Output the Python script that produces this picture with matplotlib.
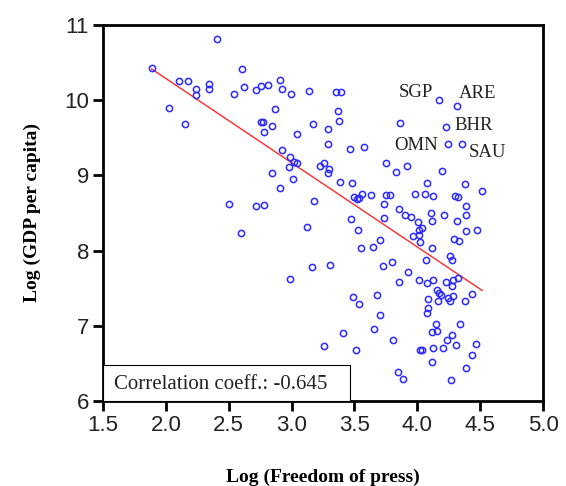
import numpy as np
import matplotlib
matplotlib.use("Agg")
import matplotlib.pyplot as plt
from matplotlib.patches import Rectangle

# log freedom of press (x) and log GDP per capita (y)
press = [
    1.887, 2.409, 2.608, 2.105, 2.176, 2.240, 2.240, 2.343, 2.343, 2.544,
    2.622, 2.717, 2.753, 2.813, 2.908, 2.926, 2.992, 3.139, 2.027, 2.152,
    2.866, 2.757, 2.770, 2.844, 2.781, 3.047, 3.173, 3.292, 3.290, 2.922,
    2.986, 3.041, 3.022, 2.982, 3.225, 3.258, 3.296, 3.292, 2.844, 3.013,
    2.908, 3.175, 2.501, 2.717, 2.781, 3.354, 3.396, 3.369, 3.377, 3.467,
    3.578, 3.384, 3.481, 3.497, 3.518, 3.534, 3.560, 3.628, 4.173, 4.318,
    3.864, 4.229, 4.242, 4.356, 3.754, 3.831, 3.922, 4.194, 4.081, 4.382,
    4.517, 3.754, 3.783, 3.979, 4.061, 4.128, 4.296, 4.326, 3.735, 3.852,
    4.390, 3.905, 3.950, 4.109, 4.215, 4.388, 3.738, 4.115, 4.003, 4.314,
    4.035, 4.016, 4.016, 3.964, 4.024, 4.388, 4.473, 4.295, 4.330, 3.525,
    3.704, 3.648, 3.552, 4.115, 4.260, 4.279, 4.069, 3.795, 3.731, 3.929,
    3.857, 4.011, 4.080, 4.124, 4.226, 4.287, 4.326, 4.276, 4.155, 4.169,
    4.191, 4.282, 4.247, 4.433, 3.677, 4.084, 3.473, 4.165, 4.263, 4.380,
    3.486, 3.538, 3.704, 3.656, 3.405, 3.803, 3.509, 3.258, 4.087, 4.075,
    4.147, 4.113, 4.159, 4.340, 4.275, 4.234, 4.306, 4.465, 4.024, 4.038,
    4.124, 4.201, 4.438, 4.116, 4.388, 3.844, 3.887, 4.270, 3.119, 2.595,
    3.165, 3.302, 2.984,
]
gdp = [
    10.434, 10.820, 10.417, 10.249, 10.258, 10.148, 10.069, 10.218, 10.152, 10.086,
    10.179, 10.139, 10.192, 10.205, 10.267, 10.148, 10.086, 10.119, 9.901, 9.680,
    9.878, 9.712, 9.712, 9.659, 9.579, 9.550, 9.689, 9.619, 9.411, 9.332,
    9.246, 9.167, 9.173, 9.114, 9.124, 9.167, 9.081, 9.034, 9.025, 8.955,
    8.827, 8.657, 8.622, 8.591, 8.604, 10.110, 10.110, 9.858, 9.722, 9.354,
    9.372, 8.909, 8.898, 8.714, 8.690, 8.704, 8.757, 8.733, 9.999, 9.918,
    9.698, 9.640, 9.421, 9.421, 9.164, 9.044, 9.123, 9.054, 8.895, 8.885,
    8.796, 8.737, 8.737, 8.749, 8.749, 8.727, 8.731, 8.708, 8.618, 8.556,
    8.595, 8.472, 8.450, 8.503, 8.476, 8.468, 8.429, 8.393, 8.380, 8.389,
    8.304, 8.274, 8.208, 8.194, 8.111, 8.257, 8.278, 8.151, 8.128, 8.276,
    8.141, 8.049, 8.032, 8.040, 7.934, 7.868, 7.873, 7.854, 7.791, 7.718,
    7.586, 7.608, 7.566, 7.608, 7.586, 7.612, 7.630, 7.533, 7.471, 7.440,
    7.407, 7.401, 7.370, 7.418, 7.414, 7.361, 8.422, 7.325, 7.335, 7.325,
    7.387, 7.295, 7.147, 6.951, 6.898, 6.809, 6.682, 6.730, 7.238, 7.176,
    7.017, 6.921, 6.928, 7.028, 6.872, 6.809, 6.742, 6.753, 6.673, 6.673,
    6.702, 6.702, 6.611, 6.514, 6.442, 6.386, 6.296, 6.283, 8.311, 8.230,
    7.780, 7.813, 7.623,
]

# labelled countries: text, x, y, alignment
labels = ["SGP", "ARE", "BHR", "OMN", "SAU"]
label_x = [4.125, 4.332, 4.292, 4.165, 4.412]
label_y = [10.046, 10.033, 9.597, 9.332, 9.246]
label_ha = ["right", "left", "left", "right", "left"]

corr_text = "Correlation coeff.: -0.645"

x = np.array(press)
y = np.array(gdp)

fig = plt.figure(figsize=(5.66, 4.86), dpi=100)
ax = fig.add_axes([0.182, 0.175, 0.7774, 0.7736])

ax.plot(x, y, "o", mfc="none", mec="#2a2aff", mew=1.1, ms=4.5, zorder=3)

b, a = np.polyfit(x, y, 1)
xs = np.array([x.min(), x.max()])
ax.plot(xs, a + b * xs, color="#ff2a2a", lw=1.0, zorder=2)

for t, lx, ly, ha in zip(labels, label_x, label_y, label_ha):
    ax.text(lx, ly, t, ha=ha, va="baseline", family="Liberation Serif",
            fontsize=13.5, color="#222222")

ax.add_patch(Rectangle((0, 0), 0.561, 0.096, transform=ax.transAxes,
                       facecolor="white", edgecolor="black", lw=0.8, zorder=4))
ax.text(0.026, 0.045, corr_text, transform=ax.transAxes, va="center", ha="left",
        family="Liberation Serif", fontsize=15, color="#222222", zorder=5)

ax.set_xlim(1.5, 5.0)
ax.set_ylim(6, 11)
ax.set_xticks(np.arange(1.5, 5.01, 0.5))
ax.set_xticklabels([f"{v:.1f}" for v in np.arange(1.5, 5.01, 0.5)])
ax.set_yticks([6, 7, 8, 9, 10, 11])

for s in ax.spines.values():
    s.set_linewidth(2.0)
ax.tick_params(axis="both", direction="out", length=7, width=2.0,
               labelsize=16, pad=3, top=False, right=False)
for lab in ax.get_xticklabels() + ax.get_yticklabels():
    lab.set_family("Liberation Sans")
    lab.set_color("#222222")

ax.set_xlabel("Log (Freedom of press)", family="Liberation Serif",
              fontweight="bold", fontsize=14, labelpad=24)
ax.set_ylabel("Log (GDP per capita)", family="Liberation Serif",
              fontweight="bold", fontsize=14, labelpad=17)

fig.savefig("out.png", dpi=100)
